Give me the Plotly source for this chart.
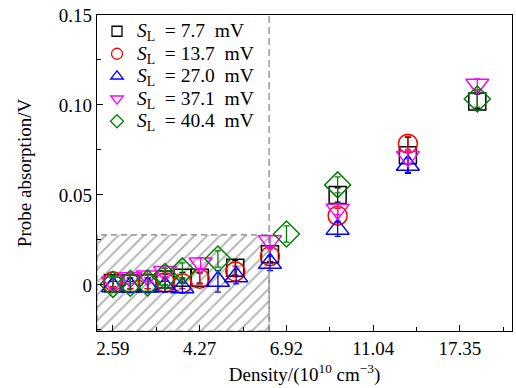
import plotly.graph_objects as go

# ---------------- data ----------------
# x positions are on the (uniform) density-step axis: 0 -> 2.59, 1 -> 4.27, ... 4 -> 17.35
tick_steps = [0, 1, 2, 3, 4]
tick_labels = ["2.59", "4.27", "6.92", "11.04", "17.35"]

y_tickvals = [0, 0.05, 0.10, 0.15]
y_ticklabels = ["0", "0.05", "0.10", "0.15"]

sl_values = ["7.7", "13.7", "27.0", "37.1", "40.4"]

x_s77 = [0.0, 0.2, 0.4, 0.6, 0.8, 1.0, 1.41, 1.81, 2.59, 3.40, 4.20]
y_s77 = [0.0010, 0.0008, 0.0010, 0.0030, 0.0040, 0.0040, 0.0095, 0.0170, 0.0500, 0.0720, 0.1020]
e_s77 = [0.003, 0.003, 0.003, 0.003, 0.003, 0.003, 0.004, 0.004, 0.004, 0.010, 0.004]

x_s137 = [0.0, 0.2, 0.4, 0.6, 0.8, 1.0, 1.41, 1.81, 2.59, 3.40]
y_s137 = [0.0020, 0.0010, 0.0010, 0.0015, 0.0010, 0.0035, 0.0075, 0.0160, 0.0385, 0.0785]
e_s137 = [0.003, 0.003, 0.003, 0.003, 0.003, 0.003, 0.003, 0.004, 0.004, 0.004]

x_s270 = [0.0, 0.2, 0.4, 0.6, 0.8, 1.21, 1.42, 1.81, 2.59, 3.40]
y_s270 = [-0.0010, -0.0010, -0.0010, -0.0010, -0.0015, 0.0020, 0.0046, 0.0120, 0.0310, 0.0665]
e_s270 = [0.003, 0.003, 0.003, 0.003, 0.003, 0.006, 0.004, 0.004, 0.004, 0.004]

x_s371 = [0.0, 0.2, 0.4, 0.6, 1.01, 1.81, 2.59, 3.40, 4.20]
y_s371 = [0.0015, 0.0040, 0.0050, 0.0074, 0.0122, 0.0245, 0.0420, 0.0713, 0.1115]
e_s371 = [0.003, 0.003, 0.003, 0.003, 0.003, 0.003, 0.003, 0.004, 0.003]

x_s404 = [0.0, 0.2, 0.4, 0.6, 0.8, 1.21, 2.0, 2.59, 4.20]
y_s404 = [0.0003, 0.0009, 0.0011, 0.0047, 0.0078, 0.0144, 0.0283, 0.0556, 0.1033]
e_s404 = [0.0045, 0.0045, 0.0045, 0.0045, 0.0045, 0.0045, 0.0045, 0.0045, 0.0045]

threshold_step = 1.80      # dashed separation line
hatch_top = 0.0278          # top of the hatched region

x_range = [-0.184, 4.60]
y_range = [-0.0256, 0.150]

# ---------------- figure ----------------
FONT = "Liberation Serif"
fig = go.Figure()

# hatched low-density region
fig.add_trace(go.Scatter(
    x=[x_range[0], x_range[0], threshold_step, threshold_step, x_range[0]],
    y=[y_range[0], hatch_top, hatch_top, y_range[0], y_range[0]],
    mode="lines", fill="toself",
    fillcolor="rgba(0,0,0,0)",
    fillpattern=dict(shape="/", fgcolor="#6e6e6e", bgcolor="rgba(255,255,255,0)",
                     size=9, solidity=0.22),
    line=dict(color="#808080", width=1.2, dash="6px,4px"),
    showlegend=False, hoverinfo="skip",
))

styles = [
    ("square-open", "black", 17, 10, x_s77, y_s77, e_s77),
    ("circle-open", "red", 19, 11, x_s137, y_s137, e_s137),
    ("triangle-up-open", "blue", 20, 11, x_s270, y_s270, e_s270),
    ("triangle-down-open", "magenta", 20, 11, x_s371, y_s371, e_s371),
    ("diamond-open", "green", 20, 10, x_s404, y_s404, e_s404),
]
for sl, (sym, col, sz, lsz, xs, ys, es) in zip(sl_values, styles):
    name = (f'<span style="font-size:19.5px"><i>S</i><sub>L</sub>&nbsp;&nbsp;=&nbsp;'
            f'{sl}&nbsp;&nbsp;mV</span>')
    fig.add_trace(go.Scatter(
        x=xs, y=ys, mode="markers", name=name, showlegend=False,
        marker=dict(symbol=sym, size=sz, color=col, line=dict(color=col, width=1.5)),
        error_y=dict(type="data", array=es, visible=True, color=col,
                     thickness=1.3, width=3),
    ))
    # legend entry (smaller symbol, no data drawn)
    fig.add_trace(go.Scatter(
        x=[None], y=[None], mode="markers", name=name, showlegend=True,
        marker=dict(symbol=sym, size=lsz, color=col, line=dict(color=col, width=1.3)),
    ))

fig.add_shape(type="line", x0=threshold_step, x1=threshold_step, y0=0, y1=1,
              xref="x", yref="paper",
              line=dict(color="#808080", width=1.2, dash="7px,4px"))

axis_common = dict(
    showgrid=False, zeroline=False, showline=True, linecolor="black", linewidth=1.3,
    mirror=True, ticks="inside", ticklen=6, tickwidth=1.2, tickcolor="black",
    tickfont=dict(family=FONT, size=19, color="black"),
)

fig.update_layout(
    width=516, height=388,
    margin=dict(l=97, r=4, t=15, b=57),
    paper_bgcolor="white", plot_bgcolor="white",
    font=dict(family=FONT, size=19, color="black"),
    xaxis=dict(
        range=x_range, tickmode="array", tickvals=tick_steps, ticktext=tick_labels,
        minor=dict(ticks="inside", ticklen=3.5, tickwidth=1.2, tickcolor="black", dtick=0.5,
                   tick0=0, showgrid=False),
        title=dict(text="Density/(10<sup>10</sup> cm<sup>−3</sup>)",
                   font=dict(family=FONT, size=19), standoff=9),
        **axis_common,
    ),
    yaxis=dict(
        range=y_range, tickmode="array", tickvals=y_tickvals, ticktext=y_ticklabels,
        minor=dict(ticks="inside", ticklen=3.5, tickwidth=1.2, tickcolor="black", dtick=0.025,
                   tick0=0, showgrid=False),
        title=dict(text="Probe absorption/V", font=dict(family=FONT, size=19), standoff=22),
        **axis_common,
    ),
    legend=dict(
        x=0.0, y=1.0, xanchor="left", yanchor="top",
        bgcolor="rgba(0,0,0,0)", borderwidth=0,
        font=dict(family=FONT, size=15, color="black"),
        itemwidth=30,
    ),
    showlegend=True,
)

fig.write_html("out.html")
